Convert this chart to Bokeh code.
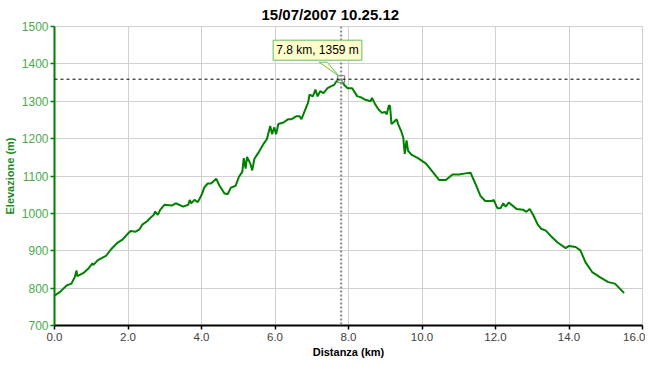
from bokeh.plotting import figure
from bokeh.models import Range1d, FixedTicker, Span, Label, PrintfTickFormatter
from bokeh.embed import file_html
from bokeh.resources import INLINE

title_text = "15/07/2007 10.25.12"
x_label = "Distanza (km)"
y_label = "Elevazione (m)"

distance_km = [0.00, 0.02, 0.15, 0.33, 0.46, 0.55, 0.60, 0.62, 0.78, 0.91, 1.03, 1.06, 1.18, 1.40,
               1.54, 1.72, 1.85, 1.98, 2.07, 2.21, 2.31, 2.39, 2.52, 2.61, 2.70, 2.74, 2.81, 2.88,
               2.99, 3.19, 3.30, 3.50, 3.64, 3.68, 3.72, 3.81, 3.90, 4.00, 4.08, 4.17, 4.26, 4.40,
               4.48, 4.62, 4.71, 4.80, 4.93, 5.02, 5.11, 5.15, 5.20, 5.24, 5.33, 5.38, 5.44, 5.56,
               5.69, 5.78, 5.87, 5.92, 5.98, 6.03, 6.09, 6.23, 6.36, 6.45, 6.59, 6.67, 6.72, 6.81,
               6.90, 6.94, 7.03, 7.10, 7.16, 7.23, 7.32, 7.43, 7.52, 7.61, 7.67, 7.80, 7.88, 7.97,
               8.10, 8.24, 8.33, 8.46, 8.60, 8.64, 8.73, 8.82, 8.91, 9.00, 9.04, 9.10, 9.13, 9.17,
               9.22, 9.31, 9.35, 9.43, 9.49, 9.53, 9.58, 9.62, 9.71, 9.89, 10.11, 10.29, 10.47,
               10.65, 10.83, 11.01, 11.18, 11.32, 11.45, 11.59, 11.72, 11.90, 11.95, 12.05, 12.14,
               12.21, 12.28, 12.36, 12.57, 12.75, 12.84, 12.93, 13.02, 13.15, 13.24, 13.37, 13.51,
               13.69, 13.91, 14.00, 14.18, 14.31, 14.45, 14.63, 14.85, 15.07, 15.25, 15.47, 15.50]
elevation_m = [780, 781, 790, 807, 812, 829, 847, 832, 840, 851, 866, 862, 875, 886,
               904, 922, 930, 944, 953, 951, 957, 970, 979, 988, 996, 1005, 996, 1010,
               1023, 1021, 1027, 1018, 1023, 1036, 1027, 1036, 1030, 1049, 1070, 1080, 1080, 1093,
               1076, 1054, 1051, 1069, 1074, 1098, 1111, 1148, 1120, 1151, 1133, 1115, 1146, 1164,
               1186, 1199, 1234, 1212, 1230, 1212, 1239, 1243, 1252, 1252, 1260, 1260, 1252, 1274,
               1296, 1318, 1313, 1331, 1313, 1327, 1322, 1335, 1340, 1344, 1353, 1359, 1344, 1335,
               1335, 1313, 1311, 1304, 1300, 1309, 1291, 1278, 1269, 1271, 1265, 1289, 1287, 1239,
               1243, 1252, 1239, 1221, 1203, 1159, 1195, 1168, 1157, 1148, 1133, 1111, 1089,
               1089, 1104, 1104, 1107, 1109, 1080, 1047, 1033, 1033, 1036, 1014, 1014,
               1027, 1018, 1029, 1012, 1010, 1004, 1012, 997, 970, 959, 954, 939,
               922, 907, 913, 910, 901, 869, 843, 829, 816, 812, 790, 787]

x_ticks = [0, 2, 4, 6, 8, 10, 12, 14, 16]
y_ticks = [700, 800, 900, 1000, 1100, 1200, 1300, 1400, 1500]

marker_km = 7.8
marker_m = 1359
tooltip_text = "7.8 km, 1359 m"

FONT = "Liberation Sans"
GREEN = "#008000"
FW, FH = 588, 299
X0, X1, Y0, Y1 = 0, 16, 700, 1500

p = figure(frame_width=FW, frame_height=FH,
           x_range=Range1d(X0, X1), y_range=Range1d(Y0, Y1),
           output_backend="svg", toolbar_location=None, title=title_text,
           min_border_left=0, min_border_right=3, min_border_top=0, min_border_bottom=0,
           background_fill_color="white", border_fill_color="white")

p.title.align = "left"
p.title.text_font = FONT
p.title.text_font_size = "15px"
p.title.text_font_style = "bold"
p.title.text_color = "black"
p.title.offset = 207
p.title.standoff = 7

p.outline_line_color = "#d0d0d0"
p.grid.grid_line_color = "#d0d0d0"
p.grid.grid_line_width = 1

xa = p.xaxis[0]
xa.ticker = FixedTicker(ticks=x_ticks)
xa.formatter = PrintfTickFormatter(format="%.1f")
xa.axis_label = x_label
xa.axis_label_text_font = FONT
xa.axis_label_text_font_size = "11px"
xa.axis_label_text_font_style = "bold"
xa.axis_label_text_color = "black"
xa.axis_label_standoff = 2
xa.major_label_text_font = FONT
xa.major_label_text_font_size = "11.5px"
xa.major_label_text_color = "#404040"
xa.major_label_standoff = 3
xa.axis_line_color = "black"
xa.axis_line_width = 2
xa.major_tick_line_color = "black"
xa.major_tick_line_width = 1.5
xa.major_tick_in = 0
xa.major_tick_out = 4
xa.minor_tick_line_color = None

ya = p.yaxis[0]
ya.ticker = FixedTicker(ticks=y_ticks)
ya.axis_label = y_label
ya.axis_label_text_font = FONT
ya.axis_label_text_font_size = "11px"
ya.axis_label_text_font_style = "bold"
ya.axis_label_text_color = "#1a8a1a"
ya.axis_label_standoff = 3
ya.major_label_text_font = FONT
ya.major_label_text_font_size = "12px"
ya.major_label_text_color = "#4aaa4a"
ya.major_label_standoff = 2
ya.axis_line_color = GREEN
ya.axis_line_width = 2
ya.major_tick_line_color = GREEN
ya.major_tick_line_width = 1.5
ya.major_tick_in = 0
ya.major_tick_out = 4
ya.minor_tick_line_color = None

p.add_layout(Span(location=marker_m, dimension="width", line_color="black",
                  line_dash="3 3", line_width=1))
p.add_layout(Span(location=marker_km, dimension="height", line_color="#888888",
                  line_dash="2 2", line_width=2))

p.line(distance_km, elevation_m, line_color=GREEN, line_width=2)

p.scatter([marker_km], [marker_m], marker="square", size=7,
          fill_color="white", fill_alpha=0.5, line_color="#777777", line_width=1)

# callout pointer (screen-pixel offsets converted to data units)
kpp = (X1 - X0) / FW
mpp = (Y1 - Y0) / FH
px_off = [-22, -14, -2]
py_off = [17, 17, 3]
p.patch([marker_km + dx * kpp for dx in px_off],
        [marker_m + dy * mpp for dy in py_off],
        fill_color="#ffffcc", line_color="#66bb66", line_width=1)

p.add_layout(Label(x=marker_km, y=marker_m, x_offset=-68, y_offset=19,
                   text=tooltip_text, text_font=FONT, text_font_size="12px",
                   text_color="black", text_baseline="bottom", text_align="left",
                   background_fill_color="#ffffcc", border_line_color="#66bb66",
                   padding=3))

open("out.html", "w").write(file_html(p, INLINE))
